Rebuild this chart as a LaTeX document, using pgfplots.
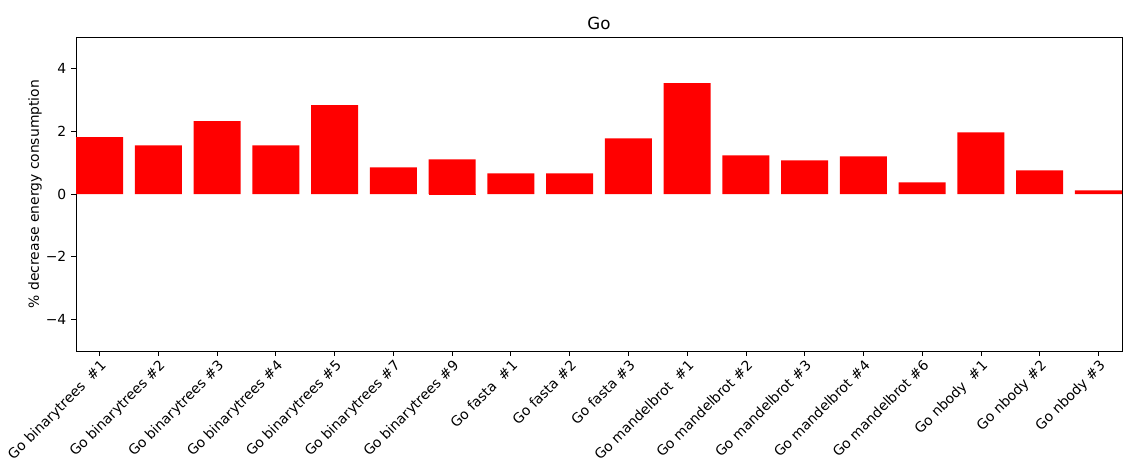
\documentclass[border=0pt]{standalone}
\usepackage{pgfplots}
\pgfplotsset{compat=1.18}
\usepackage{fontspec}
\setmainfont{DejaVu Sans}
\begin{document}
\begin{tikzpicture}
\begin{axis}[
  name=ax,
  scale only axis,
  width=753.1pt, height=226.1pt,
  xmin=-0.4, xmax=17.4,
  ymin=-5, ymax=5,
  xtick={0,...,17},
  xticklabels={
    Go binarytrees\ \ \#1, Go binarytrees \#2, Go binarytrees \#3, Go binarytrees \#4,
    Go binarytrees \#5, Go binarytrees \#7, Go binarytrees \#9, Go fasta\ \ \#1,
    Go fasta \#2, Go fasta \#3, Go mandelbrot\ \ \#1, Go mandelbrot \#2,
    Go mandelbrot \#3, Go mandelbrot \#4, Go mandelbrot \#6, Go nbody\ \ \#1,
    Go nbody \#2, Go nbody \#3},
  x tick label style={rotate=45, anchor=north east, font=\fontsize{10}{12}\selectfont, inner sep=1.5pt},
  ytick={-4,-2,0,2,4},
  yticklabels={−4,−2,0,2,4},
  y tick label style={font=\fontsize{10}{12}\selectfont},
  tick pos=left,
  tick align=outside,
  major tick length=3.5pt,
  tick style={black, line width=0.6pt},
  axis line style={black, line width=0.6pt},
  ylabel={\% decrease energy consumption},
  ylabel shift=-4pt,
  ylabel style={font=\fontsize{10}{12}\selectfont},
  title={Go},
  title style={font=\fontsize{12}{14}\selectfont, yshift=-4pt},
]
\addplot[ybar, bar width=0.8, bar shift=0pt, fill={rgb,255:red,255;green,0;blue,0}, draw=none] coordinates {
  (0,1.81) (1,1.55) (2,2.32) (3,1.55) (4,2.83) (5,0.85) (6,1.10) (7,0.66) (8,0.66)
  (9,1.77) (10,3.53) (11,1.23) (12,1.07) (13,1.20) (14,0.37) (15,1.96) (16,0.75) (17,0.12)
};
\addplot[ybar, bar width=0.8, bar shift=0pt, fill={rgb,255:red,255;green,0;blue,0}, draw=none] coordinates {
  (6,-0.04)
};
\end{axis}
\pgfresetboundingbox
\path[use as bounding box] ([xshift=-54.72pt,yshift=-81.36pt]ax.south west) rectangle ([xshift=0.72pt,yshift=26.64pt]ax.north east);
\end{tikzpicture}
\end{document}
